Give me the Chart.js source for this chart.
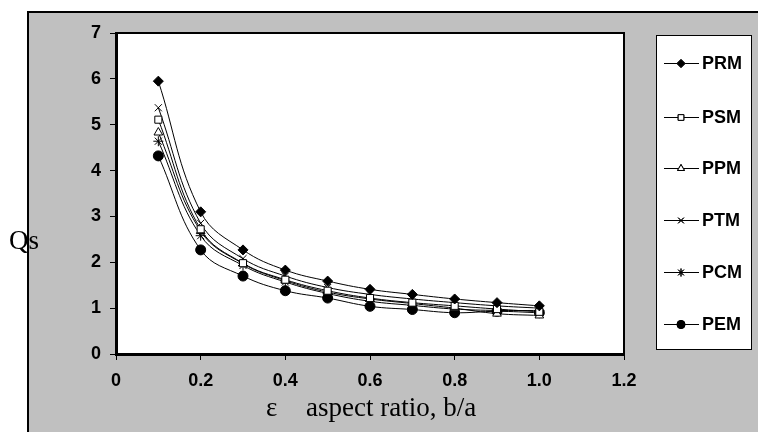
<!DOCTYPE html>
<html>
<head>
<meta charset="utf-8">
<script src="https://cdn.jsdelivr.net/npm/chart.js@4/dist/chart.umd.min.js"></script>
<style>
  body { margin: 0; background: #fff; }
  canvas { display: block; }
</style>
</head>
<body>
<canvas id="chart" width="758" height="432"></canvas>
<script>
const ratios = [0.1, 0.2, 0.3, 0.4, 0.5, 0.6, 0.7, 0.8, 0.9, 1.0];

const PRM = [5.95, 3.10, 2.27, 1.83, 1.59, 1.41, 1.30, 1.20, 1.12, 1.05];
const PSM = [5.11, 2.72, 1.98, 1.62, 1.38, 1.22, 1.12, 1.05, 0.98, 0.92];
const PPM = [4.83, 2.68, 1.97, 1.60, 1.35, 1.20, 1.10, 1.00, 0.88, 0.84];
const PTM = [5.37, 2.85, 2.08, 1.70, 1.45, 1.30, 1.20, 1.12, 1.05, 1.00];
const PCM = [4.64, 2.58, 1.93, 1.57, 1.32, 1.15, 1.06, 0.98, 0.95, 0.95];
const PEM = [4.32, 2.27, 1.70, 1.38, 1.22, 1.04, 0.97, 0.90, 0.93, 0.90];

const seriesNames = ['PRM', 'PSM', 'PPM', 'PTM', 'PCM', 'PEM'];
const seriesValues = [PRM, PSM, PPM, PTM, PCM, PEM];
const seriesMarkers = ['rectRot', 'rect', 'triangle', 'crossRot', 'star', 'circle'];
const seriesFill = ['#000', '#fff', '#fff', '#000', '#000', '#000'];

const xTicks = { min: 0, max: 1.2, step: 0.2 };
const yTicks = { min: 0, max: 7, step: 1 };

const tickFont = { family: '"Liberation Sans", Arial, sans-serif', size: 18, weight: 'bold' };

function toPoints(values) {
  return values.map((v, i) => ({ x: ratios[i], y: v }));
}

// grey frame, plot box, titles and the boxed legend
const frame = {
  id: 'frame',
  beforeDraw(chart) {
    const ctx = chart.ctx;
    const a = chart.chartArea;
    ctx.save();
    ctx.fillStyle = '#c0c0c0';
    ctx.fillRect(27, 11, 758 - 27, 432 - 11);
    ctx.strokeStyle = '#000';
    ctx.lineWidth = 2;
    ctx.beginPath();
    ctx.moveTo(28, 432);
    ctx.lineTo(28, 12);
    ctx.lineTo(758, 12);
    ctx.stroke();
    ctx.fillStyle = '#fff';
    ctx.fillRect(a.left, a.top, a.right - a.left, a.bottom - a.top);
    ctx.restore();
  },
  afterDraw(chart) {
    const ctx = chart.ctx;
    const a = chart.chartArea;
    ctx.save();
    ctx.strokeStyle = '#000';
    ctx.lineWidth = 2;
    ctx.beginPath();
    ctx.moveTo(a.left, a.top);
    ctx.lineTo(a.right, a.top);
    ctx.lineTo(a.right, a.bottom);
    ctx.stroke();

    // axis titles
    ctx.fillStyle = '#000';
    ctx.textBaseline = 'alphabetic';
    ctx.textAlign = 'left';
    ctx.font = '27px "Liberation Serif", "Times New Roman", serif';
    ctx.fillText('Qs', 9, 249);
    ctx.fillText('\u03b5', 266, 416);
    ctx.fillText('aspect ratio, b/a', 306, 416);

    // legend
    const lx = 656, ly = 35, lw = 95, lh = 314;
    ctx.fillStyle = '#fff';
    ctx.fillRect(lx, ly, lw, lh);
    ctx.lineWidth = 1;
    ctx.strokeRect(lx + 0.5, ly + 0.5, lw, lh);
    const rows = [63, 117, 168, 220, 272, 324];
    ctx.font = 'bold 18px "Liberation Sans", Arial, sans-serif';
    ctx.textBaseline = 'middle';
    seriesNames.forEach((name, i) => {
      const y = rows[i];
      ctx.strokeStyle = '#000';
      ctx.lineWidth = 1;
      ctx.beginPath();
      ctx.moveTo(664, y + 0.5);
      ctx.lineTo(699, y + 0.5);
      ctx.stroke();
      Chart.helpers.drawPoint(ctx, {
        pointStyle: seriesMarkers[i],
        radius: 4,
        rotation: 0,
        borderWidth: 1,
      }, 681, y + 0.5);
      ctx.fillStyle = seriesFill[i];
      ctx.fill();
      ctx.stroke();
      ctx.fillStyle = '#000';
      ctx.fillText(name, 702, y + 1);
    });
    ctx.restore();
  }
};

const ctx = document.getElementById('chart');

new Chart(ctx, {
  type: 'line',
  data: {
    datasets: seriesNames.map((name, i) => ({
      label: name,
      data: toPoints(seriesValues[i]),
      borderColor: '#000',
      borderWidth: 1,
      tension: 0.4,
      pointStyle: seriesMarkers[i],
      pointRadius: 5,
      pointBackgroundColor: seriesFill[i],
      pointBorderColor: '#000',
      pointBorderWidth: 1,
      fill: false,
    })),
  },
  options: {
    responsive: false,
    animation: false,
    layout: { padding: { left: 66, top: 33, right: 134, bottom: 38 } },
    plugins: {
      legend: { display: false },
      tooltip: { enabled: false },
    },
    scales: {
      x: {
        type: 'linear',
        min: xTicks.min,
        max: xTicks.max,
        afterFit: scale => { scale.height = 40; },
        border: { display: true, color: '#000', width: 3 },
        grid: { drawOnChartArea: false, drawTicks: true, tickLength: 6, color: '#000' },
        ticks: {
          stepSize: xTicks.step,
          padding: 10,
          color: '#000',
          font: tickFont,
        },
      },
      y: {
        min: yTicks.min,
        max: yTicks.max,
        afterFit: scale => { scale.width = 50; },
        border: { display: true, color: '#000', width: 3 },
        grid: { drawOnChartArea: false, drawTicks: true, tickLength: 6, color: '#000' },
        ticks: {
          stepSize: yTicks.step,
          padding: 9,
          color: '#000',
          font: tickFont,
        },
      },
    },
  },
  plugins: [frame],
});
</script>
</body>
</html>
